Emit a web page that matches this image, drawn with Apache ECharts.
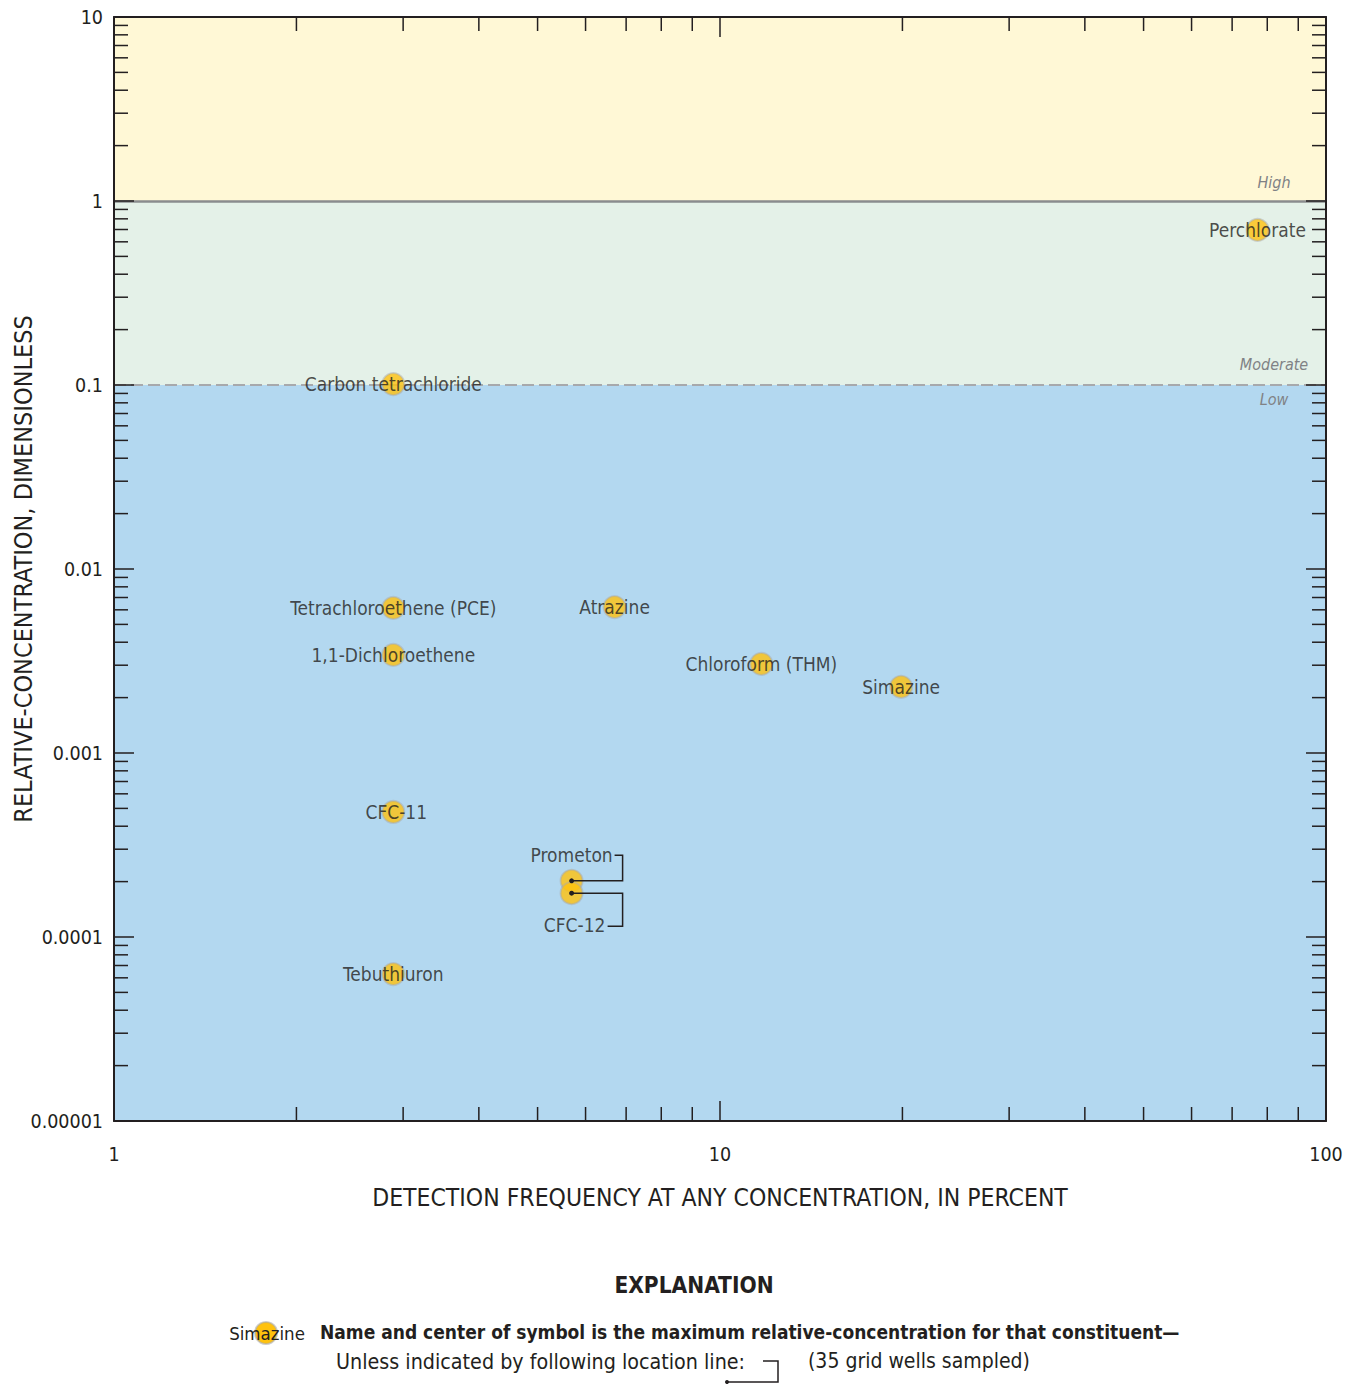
<!DOCTYPE html>
<html>
<head>
<meta charset="utf-8">
<script src="https://cdn.jsdelivr.net/npm/echarts@6/dist/echarts.min.js"></script>
<style>
html,body{margin:0;padding:0;background:#fff;}
#chart{width:1353px;height:1384px;}
</style>
</head>
<body>
<div id="chart"></div>
<script>
// ---- data ----
const constituents = ['Perchlorate','Carbon tetrachloride','Tetrachloroethene (PCE)','1,1-Dichloroethene','Atrazine','Chloroform (THM)','Simazine','CFC-11','Prometon','CFC-12','Tebuthiuron'];
const detectionFrequency = [77.1, 2.89, 2.89, 2.89, 6.7, 11.7, 19.9, 2.89, 5.69, 5.69, 2.89];
const relativeConcentration = [0.696, 0.101, 0.00614, 0.00341, 0.00621, 0.00305, 0.00229, 0.000478, 0.000202, 0.000173, 0.0000629];
const yTickLabels = ['0.00001','0.0001','0.001','0.01','0.1','1','10'];
const xTickLabels = ['1','10','100'];
const bandBreaks = [0.00001, 0.1, 1, 10];
const bandNames = ['Low','Moderate','High'];

const FONT = '"Liberation Sans Narrow","DejaVu Sans Condensed","Roboto",sans-serif';
const INK = '#231f20';

// label placement (style only)
const labelOffsets = {'Prometon':[0,-26], 'CFC-12':[3,32], 'CFC-11':[3,0]};
const connectorStyle = {'Prometon':{dy:-25.5,endDx:43}, 'CFC-12':{dy:33,endDx:36}};

const points = constituents.map((n,i)=>({
  name:n, value:[detectionFrequency[i], relativeConcentration[i]],
  label:{offset: labelOffsets[n] || [0,0]}
}));
const connectorData = constituents.map((n,i)=>connectorStyle[n]?{name:n,value:[detectionFrequency[i],relativeConcentration[i]]}:null).filter(Boolean);

// minor tick values (axis decoration)
const minorTicks = [];
for (let e=-5;e<1;e++) for (let m=2;m<10;m++) minorTicks.push([1, m*Math.pow(10,e), 1]);
for (let e=0;e<2;e++) for (let m=2;m<10;m++) minorTicks.push([m*Math.pow(10,e), 0.00001, 0]);

const expOf = v => Math.round(Math.log10(v));

const chart = echarts.init(document.getElementById('chart'), null, {renderer:'svg'});

const axisCommon = {
  type:'log', logBase:10, z:5, nameMoveOverlap:false,
  axisLine:{show:true, lineStyle:{color:INK, width:2}},
  axisTick:{show:true, inside:true, length:20, lineStyle:{color:INK, width:1.5}},
  splitLine:{show:false}, minorTick:{show:false}
};
const bandLabel = {show:true, align:'center', verticalAlign:'middle', fontStyle:'italic', fontFamily:FONT, fontSize:16, color:'#808285'};

const option = {
  animation:false,
  backgroundColor:'#fff',
  grid:{left:114, top:17, width:1212, height:1104, containLabel:false, outerBoundsMode:'none'},
  xAxis:[
    Object.assign({}, axisCommon, {min:1, max:100, position:'bottom',
      name:'DETECTION FREQUENCY AT ANY CONCENTRATION, IN PERCENT', nameLocation:'middle', nameGap:64,
      nameTextStyle:{fontFamily:FONT, fontSize:24.5, color:INK},
      axisLabel:{margin:23, fontFamily:FONT, fontSize:19.5, color:INK, formatter:v=>xTickLabels[expOf(v)]}}),
    Object.assign({}, axisCommon, {min:1, max:100, position:'top', axisLabel:{show:false}})
  ],
  yAxis:[
    Object.assign({}, axisCommon, {min:0.00001, max:10, position:'left',
      name:'RELATIVE-CONCENTRATION, DIMENSIONLESS', nameLocation:'middle', nameGap:78,
      nameTextStyle:{fontFamily:FONT, fontSize:25, color:INK},
      axisLabel:{margin:11, fontFamily:FONT, fontSize:19.5, color:INK, formatter:v=>yTickLabels[expOf(v)+5]}}),
    Object.assign({}, axisCommon, {min:0.00001, max:10, position:'right', axisLabel:{show:false}})
  ],
  series:[
    {
      type:'scatter', z:1, silent:true, symbolSize:0, data:[[1,0.00001]],
      markArea:{silent:true, data:[
        [{yAxis:bandBreaks[2], itemStyle:{color:'#fff8d6'},
          label:Object.assign({formatter:bandNames[2], position:[1160,165]}, bandLabel)},
         {yAxis:bandBreaks[3]}],
        [{yAxis:bandBreaks[1], itemStyle:{color:'#e4f1e8'},
          label:Object.assign({formatter:bandNames[1], position:[1160,163]}, bandLabel)},
         {yAxis:bandBreaks[2]}],
        [{yAxis:bandBreaks[0], itemStyle:{color:'#b3d8f0'},
          label:Object.assign({formatter:bandNames[0], position:[1160,14]}, bandLabel)},
         {yAxis:bandBreaks[1]}]
      ]},
      markLine:{silent:true, symbol:'none', label:{show:false}, data:[
        {yAxis:bandBreaks[2], lineStyle:{color:'#8a8c8e', width:2.5, type:'solid'}},
        {yAxis:bandBreaks[1], lineStyle:{color:'#a7a9ac', width:2, type:[12,5]}}
      ]}
    },
    {
      type:'custom', z:6, silent:true, clip:false,
      data:minorTicks,
      encode:{x:0,y:1},
      renderItem:function(params, api){
        const kind = api.value(2);
        const L = 14;
        const st = {stroke:INK, lineWidth:1.5};
        if (kind === 1) {
          const a = api.coord([1, api.value(1)]);
          const b = api.coord([100, api.value(1)]);
          return {type:'group', children:[
            {type:'line', shape:{x1:a[0], y1:a[1], x2:a[0]+L, y2:a[1]}, style:st},
            {type:'line', shape:{x1:b[0], y1:b[1], x2:b[0]-L, y2:b[1]}, style:st}
          ]};
        } else {
          const a = api.coord([api.value(0), 0.00001]);
          const b = api.coord([api.value(0), 10]);
          return {type:'group', children:[
            {type:'line', shape:{x1:a[0], y1:a[1], x2:a[0], y2:a[1]-L}, style:st},
            {type:'line', shape:{x1:b[0], y1:b[1], x2:b[0], y2:b[1]+L}, style:st}
          ]};
        }
      }
    },
    {
      type:'scatter', z:10, symbol:'circle', symbolSize:22,
      itemStyle:{color:'#ffc20e', borderColor:'rgba(170,170,170,0.6)', borderWidth:2},
      label:{show:true, position:'inside', formatter:'{b}', fontFamily:FONT, fontSize:19, color:INK},
      data:points
    },
    {
      type:'custom', z:11, silent:true, clip:false,
      data:connectorData, encode:{x:0,y:1},
      renderItem:function(params, api){
        const p = api.coord([api.value(0), api.value(1)]);
        const c = connectorStyle[connectorData[params.dataIndex].name];
        const cx = p[0]+51;
        return {type:'group', children:[
          {type:'polyline', shape:{points:[[p[0],p[1]],[cx,p[1]],[cx,p[1]+c.dy],[p[0]+c.endDx,p[1]+c.dy]]}, style:{stroke:INK, lineWidth:1.5, fill:null}},
          {type:'circle', shape:{cx:p[0], cy:p[1], r:2.5}, style:{fill:INK}}
        ]};
      }
    }
  ],
  graphic:[
    {type:'text', x:694, y:1285, style:{text:'EXPLANATION', fontFamily:FONT, fontWeight:'bold', fontSize:22.5, fill:INK, align:'center', verticalAlign:'middle'}},
    {type:'circle', shape:{cx:266, cy:1333, r:11}, style:{fill:'#ffc20e', stroke:'rgba(170,170,170,0.6)', lineWidth:2}},
    {type:'text', x:267, y:1333, style:{text:'Simazine', fontFamily:FONT, fontSize:18.5, fill:INK, align:'center', verticalAlign:'middle'}},
    {type:'text', x:320, y:1332, style:{text:'Name and center of symbol is the maximum relative-concentration for that constituent\u2014', fontFamily:FONT, fontWeight:'bold', fontSize:19, fill:INK, align:'left', verticalAlign:'middle'}},
    {type:'text', x:336, y:1361, style:{text:'Unless indicated by following location line:', fontFamily:FONT, fontSize:21.3, fill:INK, align:'left', verticalAlign:'middle'}},
    {type:'polyline', shape:{points:[[763,1361],[778,1361],[778,1382],[727,1382]]}, style:{stroke:INK, lineWidth:1.5, fill:null}},
    {type:'circle', shape:{cx:727, cy:1382, r:2}, style:{fill:INK}},
    {type:'text', x:808, y:1361, style:{text:'(35 grid wells sampled)', fontFamily:FONT, fontSize:21, fill:INK, align:'left', verticalAlign:'middle'}}
  ]
};
chart.setOption(option);
</script>
</body>
</html>
